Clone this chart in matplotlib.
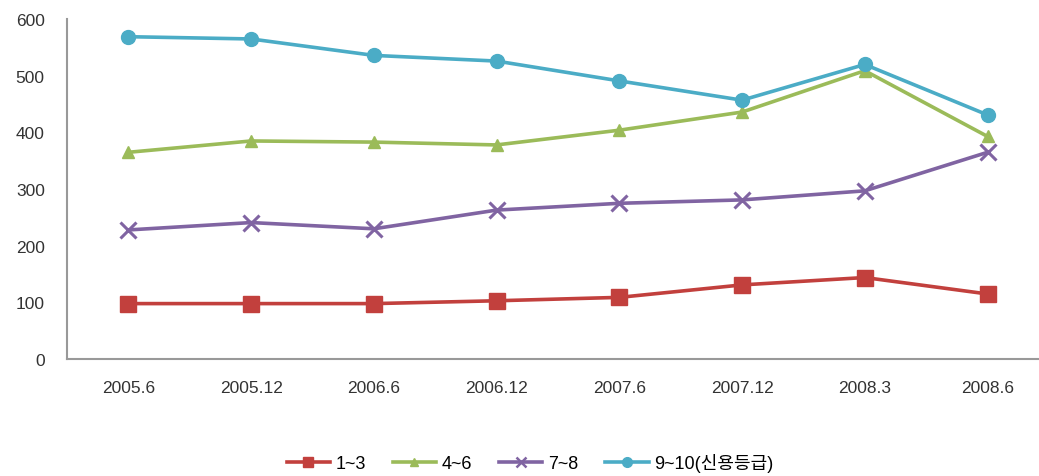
import matplotlib
matplotlib.use("Agg")
import matplotlib.pyplot as plt
from matplotlib.lines import Line2D

plt.rcParams['font.family'] = ['Liberation Sans', 'Noto Sans CJK KR', 'DejaVu Sans']

# data
periods = ["2005.6", "2005.12", "2006.6", "2006.12", "2007.6", "2007.12", "2008.3", "2008.6"]
grade_1_3 = [98, 98, 98, 103, 109, 131, 144, 115]
grade_4_6 = [365, 385, 383, 378, 404, 436, 509, 393]
grade_7_8 = [228, 241, 230, 263, 275, 281, 297, 365]
grade_9_10 = [569, 565, 536, 526, 491, 457, 520, 431]
labels = ["1~3", "4~6", "7~8", "9~10(신용등급)"]

colors = ["#C2403D", "#9BBB59", "#8064A2", "#4BACC6"]
markers = ["s", "^", "x", "o"]
msizes = [11, 8, 11, 10]

fig = plt.figure(figsize=(10.39, 4.77), dpi=100)
ax = fig.add_axes([0.0645, 0.245, 0.945, 0.7128])

x = list(range(len(periods)))
series = [grade_1_3, grade_4_6, grade_7_8, grade_9_10]
for vals, c, m, ms in zip(series, colors, markers, msizes):
    ax.plot(x, vals, color=c, linewidth=2.6, marker=m, markersize=ms,
            markeredgewidth=2.2 if m == "x" else 1, markeredgecolor=c)

ax.set_xlim(-0.5, len(periods) - 0.5)
ax.set_ylim(0, 600)
ax.set_yticks(range(0, 601, 100))
ax.set_xticks(x)
ax.set_xticklabels(periods)
ax.tick_params(axis='both', length=0, labelsize=12.5, colors="#333333")
ax.tick_params(axis='y', pad=16)
ax.tick_params(axis='x', pad=15)

ax.spines['right'].set_visible(False)
ax.spines['top'].set_visible(False)
ax.spines['left'].set_color("#999999")
ax.spines['bottom'].set_color("#999999")
ax.spines['left'].set_linewidth(1.5)
ax.spines['bottom'].set_linewidth(1.5)

handles = [Line2D([0], [0], color=c, linewidth=2.6, marker=m, markersize=ms * 0.7,
                  markeredgewidth=1.8 if m == "x" else 1, markeredgecolor=c)
           for c, m, ms in zip(colors, markers, msizes)]
fig.legend(handles, labels, loc="center", bbox_to_anchor=(0.51, 0.028), ncol=4,
           frameon=False, fontsize=13, handlelength=2.4, handletextpad=0.3,
           columnspacing=1.5)

fig.savefig("out.png", dpi=100)
